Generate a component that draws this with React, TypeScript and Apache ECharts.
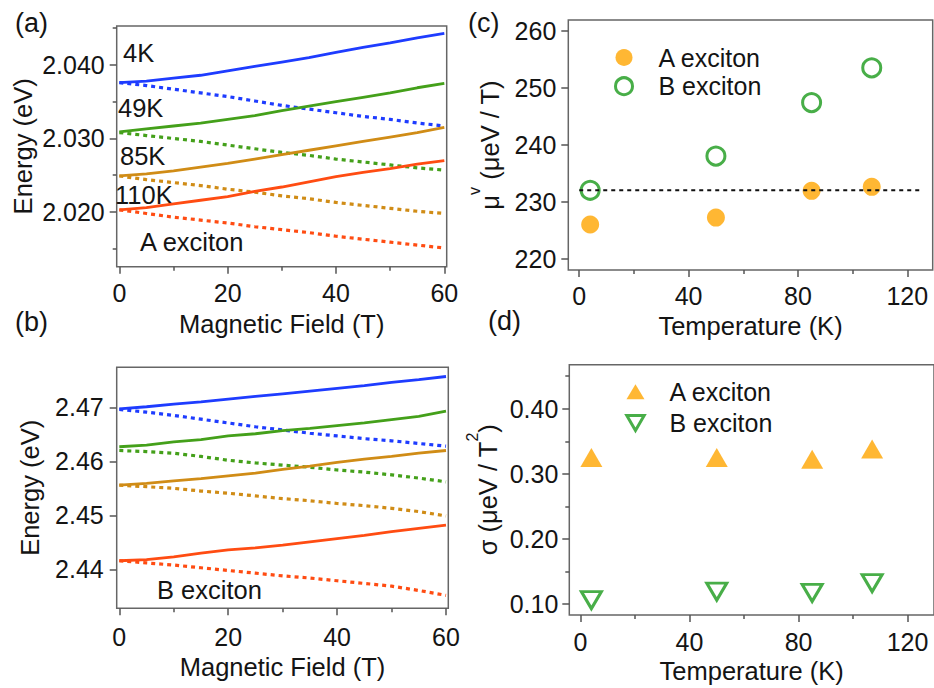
import React, { useEffect, useRef } from "react";
import * as echarts from "echarts";

// ---------- data ----------
const fieldT = [0, 5, 10, 15, 20, 25, 30, 35, 40, 45, 50, 55, 60];
const tempLabels = ["4K", "49K", "85K", "110K"];

// panel (a) A exciton energies (eV): solid = upper branch, dotted = lower branch
const aUp4K = [2.0376, 2.0378, 2.0382, 2.0386, 2.0392, 2.0398, 2.0404, 2.041, 2.0417, 2.0424, 2.043, 2.0437, 2.0443];
const aDown4K = [2.0376, 2.0372, 2.0367, 2.0362, 2.0357, 2.0351, 2.0345, 2.034, 2.0335, 2.033, 2.0326, 2.0321, 2.0317];
const aUp49K = [2.0309, 2.0313, 2.0317, 2.0321, 2.0326, 2.0331, 2.0338, 2.0344, 2.035, 2.0356, 2.0362, 2.0369, 2.0375];
const aDown49K = [2.0308, 2.0304, 2.03, 2.0296, 2.0291, 2.0286, 2.0281, 2.0277, 2.0272, 2.0268, 2.0264, 2.026, 2.0257];
const aUp85K = [2.0249, 2.0252, 2.0256, 2.0261, 2.0266, 2.0272, 2.0278, 2.0284, 2.029, 2.0296, 2.0302, 2.0308, 2.0315];
const aDown85K = [2.0249, 2.0244, 2.024, 2.0236, 2.0231, 2.0227, 2.0222, 2.0218, 2.0213, 2.0209, 2.0205, 2.0201, 2.0198];
const aUp110K = [2.0203, 2.0206, 2.0211, 2.0216, 2.0221, 2.0228, 2.0234, 2.0241, 2.0248, 2.0254, 2.0259, 2.0265, 2.027];
const aDown110K = [2.0203, 2.0198, 2.0193, 2.0189, 2.0185, 2.018, 2.0176, 2.0172, 2.0167, 2.0163, 2.0159, 2.0155, 2.0151];

// panel (b) B exciton energies (eV)
const bUp4K = [2.4697, 2.4701, 2.4706, 2.471, 2.4715, 2.472, 2.4725, 2.473, 2.4735, 2.474, 2.4746, 2.4751, 2.4757];
const bDown4K = [2.4696, 2.4691, 2.4685, 2.4678, 2.4671, 2.4664, 2.4658, 2.4652, 2.4647, 2.4642, 2.4638, 2.4633, 2.4628];
const bUp49K = [2.4627, 2.463, 2.4636, 2.464, 2.4647, 2.4651, 2.4657, 2.4661, 2.4666, 2.4671, 2.4677, 2.4683, 2.4693];
const bDown49K = [2.462, 2.4618, 2.4615, 2.4609, 2.4602, 2.4597, 2.4593, 2.4589, 2.4584, 2.458, 2.4575, 2.4569, 2.4562];
const bUp85K = [2.4556, 2.4559, 2.4564, 2.4568, 2.4573, 2.4578, 2.4585, 2.4591, 2.4598, 2.4604, 2.4609, 2.4615, 2.462];
const bDown85K = [2.4556, 2.4553, 2.455, 2.4545, 2.4541, 2.4536, 2.4531, 2.4527, 2.4522, 2.4518, 2.4513, 2.4507, 2.4499];
const bUp110K = [2.4416, 2.4418, 2.4423, 2.443, 2.4436, 2.444, 2.4445, 2.4451, 2.4457, 2.4463, 2.447, 2.4476, 2.4482];
const bDown110K = [2.4416, 2.4412, 2.4408, 2.4403, 2.4398, 2.4393, 2.4388, 2.4384, 2.4379, 2.4374, 2.4369, 2.4361, 2.4352];

// panel (c) linear coefficient vs temperature
const temps = [4, 50, 85, 107];
const muA = [226.0, 227.2, 231.9, 232.6];
const muB = [232.0, 238.0, 247.4, 253.5];
const muRefT = [0, 125];
const muRef = [232, 232];

// panel (d) quadratic coefficient vs temperature
const sigmaA = [0.325, 0.325, 0.3225, 0.338];
const sigmaB = [0.106, 0.119, 0.117, 0.132];

// tick values / labels
const fieldTicks = [0, 20, 40, 60];
const fieldMinor = [10, 30, 50];
const aEnergyTicks = [2.02, 2.03, 2.04];
const aEnergyMinor = [2.015, 2.025, 2.035, 2.045];
const bEnergyTicks = [2.44, 2.45, 2.46, 2.47];
const tempTicks = [0, 40, 80, 120];
const tempMinor = [20, 60, 100];
const muTicks = [220, 230, 240, 250, 260];
const sigmaTicks = [0.1, 0.2, 0.3, 0.4];
const sigmaMinor = [0.15, 0.25, 0.35, 0.45];

// ---------- styling ----------
const FONT = "Liberation Sans, Arial, Helvetica, sans-serif";
const TXT = "#141414";
const lineColors = ["#1E3CFF", "#44A01A", "#D08C16", "#FF4C12"];
const ORANGE = "#FFA500";
const GREEN = "#1A9A1A";

function axis(
  dim: "x" | "y",
  grid: number,
  min: number,
  max: number,
  ticks: number[],
  fmt: (v: number) => string,
  margin: number,
  name: any,
  nameGap: number,
  rich?: any
) {
  return {
    type: "value",
    gridIndex: grid,
    position: dim === "x" ? "bottom" : "left",
    min,
    max,
    name,
    nameLocation: "middle",
    nameGap,
    nameTextStyle: {
      fontFamily: FONT,
      fontSize: 25.5,
      color: TXT,
      rich,
    },
    axisLine: { show: false, onZero: false },
    splitLine: { show: false },
    axisTick: {
      show: true,
      length: 7,
      customValues: ticks,
      lineStyle: { color: "#555", width: 1.5 },
    },
    axisLabel: {
      show: true,
      customValues: ticks,
      formatter: fmt,
      margin,
      fontFamily: FONT,
      fontSize: 25,
      color: TXT,
    },
  };
}

function minorAxis(dim: "x" | "y", grid: number, min: number, max: number, ticks: number[]) {
  return {
    type: "value",
    gridIndex: grid,
    position: dim === "x" ? "bottom" : "left",
    offset: 0,
    min,
    max,
    axisLine: { show: false, onZero: false },
    splitLine: { show: false },
    axisLabel: { show: false, customValues: ticks },
    axisTick: {
      show: true,
      length: 4,
      customValues: ticks,
      lineStyle: { color: "#555", width: 1.5 },
    },
  };
}

function energyLine(name: string, values: number[], color: string, dotted: boolean, ax: number) {
  return {
    type: "line",
    name,
    xAxisIndex: ax,
    yAxisIndex: ax,
    data: fieldT.map((t, i) => [t, values[i]]),
    symbol: "none",
    silent: true,
    z: dotted ? 2 : 3,
    lineStyle: {
      color,
      width: dotted ? 3.2 : 2.8,
      type: dotted ? [4, 4] : "solid",
      cap: "butt",
    },
  };
}

export default function App() {
  const ref = useRef<HTMLDivElement>(null);

  useEffect(() => {
    if (!ref.current) return;
    const chart = echarts.init(ref.current, undefined, { renderer: "svg" });

    const aUp = [aUp4K, aUp49K, aUp85K, aUp110K];
    const aDown = [aDown4K, aDown49K, aDown85K, aDown110K];
    const bUp = [bUp4K, bUp49K, bUp85K, bUp110K];
    const bDown = [bDown4K, bDown49K, bDown85K, bDown110K];

    const series: any[] = [];
    tempLabels.forEach((lab, i) => {
      series.push(energyLine(`A ${lab} dotted`, aDown[i], lineColors[i], true, 0));
      series.push(energyLine(`A ${lab} solid`, aUp[i], lineColors[i], false, 0));
      series.push(energyLine(`B ${lab} dotted`, bDown[i], lineColors[i], true, 2));
      series.push(energyLine(`B ${lab} solid`, bUp[i], lineColors[i], false, 2));
    });

    series.push({
      type: "scatter",
      name: "A exciton",
      xAxisIndex: 4,
      yAxisIndex: 4,
      data: temps.map((t, i) => [t, muA[i]]),
      symbol: "circle",
      symbolSize: 18,
      itemStyle: { color: ORANGE },
      z: 3,
    });
    series.push({
      type: "scatter",
      name: "B exciton",
      xAxisIndex: 4,
      yAxisIndex: 4,
      data: temps.map((t, i) => [t, muB[i]]),
      symbol: "circle",
      symbolSize: 18,
      itemStyle: { color: "#ffffff", borderColor: GREEN, borderWidth: 3 },
      z: 3,
    });
    series.push({
      type: "line",
      name: "mu reference",
      xAxisIndex: 4,
      yAxisIndex: 4,
      data: muRefT.map((t, i) => [t, muRef[i]]),
      symbol: "none",
      silent: true,
      z: 5,
      lineStyle: { color: "#111", width: 2, type: [4, 4] },
    });
    series.push({
      type: "scatter",
      name: "s-A exciton",
      xAxisIndex: 6,
      yAxisIndex: 6,
      data: temps.map((t, i) => [t, sigmaA[i]]),
      symbol: "triangle",
      symbolSize: [22, 19],
      itemStyle: { color: ORANGE },
      z: 3,
    });
    series.push({
      type: "scatter",
      name: "s-B exciton",
      xAxisIndex: 6,
      yAxisIndex: 6,
      data: temps.map((t, i) => [t, sigmaB[i]]),
      symbol: "path://M0,0L22,0L11,19Z",
      symbolSize: [20, 17],
      itemStyle: { color: "#ffffff", borderColor: GREEN, borderWidth: 3 },
      z: 3,
    });

    const gridBox = {
      show: true,
      borderColor: "#666",
      borderWidth: 1.5,
      backgroundColor: "transparent",
      containLabel: false,
    };

    const textEl = (text: string, x: number, y: number, size: number) => ({
      type: "text",
      x,
      y,
      silent: true,
      style: {
        text,
        fontFamily: FONT,
        fontSize: size,
        fill: TXT,
        verticalAlign: "middle",
        align: "left",
      },
    });

    const supRich = {
      n: { fontFamily: FONT, fontSize: 25.5, color: TXT, lineHeight: 37, verticalAlign: "bottom" },
      s: { fontFamily: FONT, fontSize: 16, color: TXT, lineHeight: 16, verticalAlign: "top" },
    };

    const legendText = (pad: number) => ({
      fontFamily: FONT,
      fontSize: 25,
      color: TXT,
      lineHeight: 25,
      padding: [0, 0, 0, pad],
    });

    chart.setOption({
      animation: false,
      backgroundColor: "#ffffff",
      grid: [
        { ...gridBox, left: 116.7, top: 26, width: 330, height: 240.7 },
        { ...gridBox, left: 116.7, top: 367.3, width: 331.6, height: 241 },
        { ...gridBox, left: 568.3, top: 20, width: 364.4, height: 250 },
        { ...gridBox, left: 569.3, top: 364.7, width: 368, height: 250.3 },
      ],
      xAxis: [
        axis("x", 0, -0.49, 60.44, fieldTicks, (v) => String(v), 14, "Magnetic Field (T)", 44),
        minorAxis("x", 0, -0.49, 60.44, fieldMinor),
        axis("x", 1, -0.48, 60.42, fieldTicks, (v) => String(v), 16, "Magnetic Field (T)", 46),
        minorAxis("x", 1, -0.48, 60.42, fieldMinor),
        axis("x", 2, -4.0, 129.3, tempTicks, (v) => String(v), 13, "Temperature (K)", 43),
        minorAxis("x", 2, -4.0, 129.3, tempMinor),
        axis("x", 3, -4.1, 129.7, tempTicks, (v) => String(v), 14, "Temperature (K)", 43),
        minorAxis("x", 3, -4.1, 129.7, tempMinor),
      ],
      yAxis: [
        axis("y", 0, 2.01256, 2.0453, aEnergyTicks, (v) => v.toFixed(3), 12, "Energy (eV)", 81),
        minorAxis("y", 0, 2.01256, 2.0453, aEnergyMinor),
        axis("y", 1, 2.4328, 2.4774, bEnergyTicks, (v) => v.toFixed(2), 13, "Energy (eV)", 74),
        minorAxis("y", 1, 2.4328, 2.4774, []),
        axis("y", 2, 218.0, 261.9, muTicks, (v) => String(v), 12, "{n|μ}{s|v}{n| (μeV / T)}", 65, supRich),
        minorAxis("y", 2, 218.0, 261.9, []),
        axis("y", 3, 0.0831, 0.4676, sigmaTicks, (v) => v.toFixed(2), 11, "{n|σ (μeV / T}{s|2}{n|)}", 68, supRich),
        minorAxis("y", 3, 0.0831, 0.4676, sigmaMinor),
      ],
      legend: [
        {
          left: 614,
          top: 45,
          padding: 0,
          orient: "vertical",
          itemWidth: 17,
          itemHeight: 17,
          itemGap: 3.7,
          selectedMode: false,
          textStyle: legendText(21),
          data: [
            { name: "A exciton", icon: "circle", itemStyle: { color: ORANGE, borderWidth: 0 } },
            {
              name: "B exciton",
              icon: "circle",
              itemStyle: { color: "#ffffff", borderColor: GREEN, borderWidth: 3 },
            },
          ],
        },
        {
          left: 625.3,
          top: 379.2,
          padding: 0,
          orient: "vertical",
          itemWidth: 18,
          itemHeight: 15,
          itemGap: 6.3,
          selectedMode: false,
          textStyle: legendText(20),
          formatter: (name: string) => name.replace("s-", ""),
          data: [
            { name: "s-A exciton", icon: "triangle", itemStyle: { color: ORANGE, borderWidth: 0 } },
            {
              name: "s-B exciton",
              icon: "path://M0,0L22,0L11,19Z",
              itemStyle: { color: "#ffffff", borderColor: GREEN, borderWidth: 3 },
            },
          ],
        },
      ],
      graphic: [
        textEl("(a)", 15, 23, 27),
        textEl("(b)", 15, 322, 27),
        textEl("(c)", 468, 23, 27),
        textEl("(d)", 488, 321, 27),
        textEl("4K", 123, 53, 25.5),
        textEl("49K", 118, 108, 25.5),
        textEl("85K", 120, 156, 25.5),
        textEl("110K", 115, 195, 25.5),
        textEl("A exciton", 140, 242, 25.5),
        textEl("B exciton", 157, 590, 25.5),
      ],
      series,
    });

    return () => chart.dispose();
  }, []);

  return (
    <div
      ref={ref}
      style={{
        position: "absolute",
        left: 0,
        top: 0,
        width: 934,
        height: 688,
        background: "#ffffff",
      }}
    />
  );
}
